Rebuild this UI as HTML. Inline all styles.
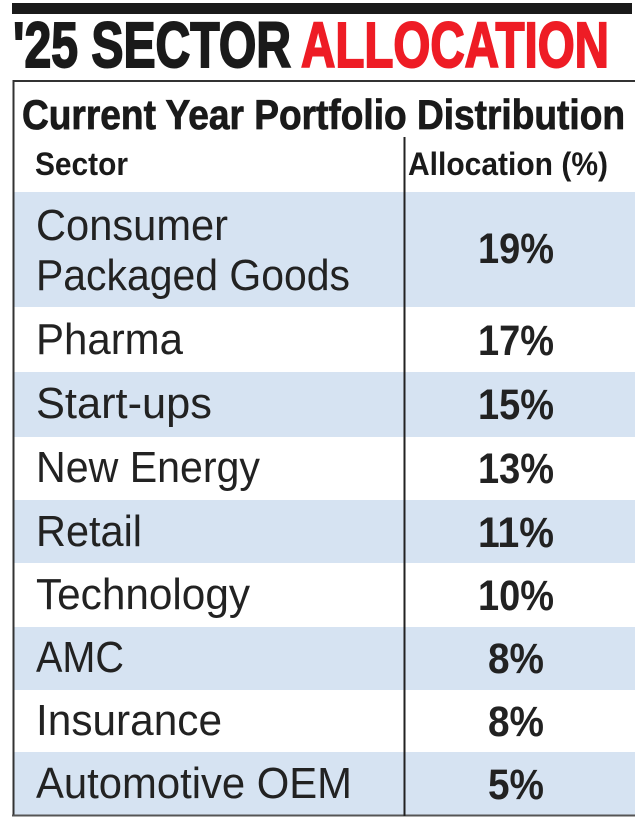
<!DOCTYPE html>
<html><head><meta charset="utf-8"><style>
html,body{margin:0;padding:0;background:#fff;}
svg{display:block}
text{font-family:"Liberation Sans Narrow","Liberation Sans",sans-serif;}
</style></head><body>
<svg width="635" height="835" viewBox="0 0 635 835" xmlns="http://www.w3.org/2000/svg">
<rect x="12" y="3" width="620" height="11" fill="#1a1a1a"/>
<text x="13" y="67" font-size="64" font-weight="bold" fill="#1a1a1a" stroke="#1a1a1a" stroke-width="2" textLength="278" lengthAdjust="spacingAndGlyphs">'25 SECTOR</text>
<text x="301" y="67" font-size="64" font-weight="bold" fill="#ee1c25" stroke="#ee1c25" stroke-width="2" textLength="308" lengthAdjust="spacingAndGlyphs">ALLOCATION</text>
<rect x="13" y="192" width="622" height="115" fill="#d6e3f2"/>
<rect x="13" y="372" width="622" height="65" fill="#d6e3f2"/>
<rect x="13" y="500" width="622" height="63" fill="#d6e3f2"/>
<rect x="13" y="627" width="622" height="63" fill="#d6e3f2"/>
<rect x="13" y="752" width="622" height="63" fill="#d6e3f2"/>
<path d="M13.5 815 V81 H635" fill="none" stroke="#333" stroke-width="2"/>
<line x1="12" y1="815.5" x2="635" y2="815.5" stroke="#555" stroke-width="2"/>
<line x1="404.5" y1="137" x2="404.5" y2="816" stroke="#222" stroke-width="2"/>
<text x="22" y="129" font-size="42" font-weight="bold" fill="#1a1a1a" stroke="#1a1a1a" stroke-width="0.8" textLength="603" lengthAdjust="spacingAndGlyphs">Current Year Portfolio Distribution</text>
<text x="35" y="175" font-size="32" font-weight="bold" fill="#1a1a1a" textLength="93" lengthAdjust="spacingAndGlyphs">Sector</text>
<text x="408" y="175" font-size="32" font-weight="bold" fill="#1a1a1a" textLength="200" lengthAdjust="spacingAndGlyphs">Allocation (%)</text>
<g font-size="44" fill="#222">
<text x="36" y="240" textLength="192" lengthAdjust="spacingAndGlyphs">Consumer</text>
<text x="36" y="290" textLength="314" lengthAdjust="spacingAndGlyphs">Packaged Goods</text>
<text x="36" y="354" textLength="147" lengthAdjust="spacingAndGlyphs">Pharma</text>
<text x="36" y="418" textLength="176" lengthAdjust="spacingAndGlyphs">Start-ups</text>
<text x="36" y="482" textLength="224" lengthAdjust="spacingAndGlyphs">New Energy</text>
<text x="36" y="546" textLength="106" lengthAdjust="spacingAndGlyphs">Retail</text>
<text x="36" y="609" textLength="214" lengthAdjust="spacingAndGlyphs">Technology</text>
<text x="36" y="672" textLength="88" lengthAdjust="spacingAndGlyphs">AMC</text>
<text x="36" y="735" textLength="186" lengthAdjust="spacingAndGlyphs">Insurance</text>
<text x="36" y="798" textLength="316" lengthAdjust="spacingAndGlyphs">Automotive OEM</text>
</g>
<g font-size="43" font-weight="bold" fill="#222" text-anchor="middle">
<text x="516" y="263" textLength="76" lengthAdjust="spacingAndGlyphs">19%</text>
<text x="516" y="355" textLength="76" lengthAdjust="spacingAndGlyphs">17%</text>
<text x="516" y="419" textLength="76" lengthAdjust="spacingAndGlyphs">15%</text>
<text x="516" y="483" textLength="76" lengthAdjust="spacingAndGlyphs">13%</text>
<text x="516" y="547" textLength="76" lengthAdjust="spacingAndGlyphs">11%</text>
<text x="516" y="610" textLength="76" lengthAdjust="spacingAndGlyphs">10%</text>
<text x="516" y="673" textLength="56" lengthAdjust="spacingAndGlyphs">8%</text>
<text x="516" y="736" textLength="56" lengthAdjust="spacingAndGlyphs">8%</text>
<text x="516" y="799" textLength="56" lengthAdjust="spacingAndGlyphs">5%</text>
</g>
</svg>
</body></html>
